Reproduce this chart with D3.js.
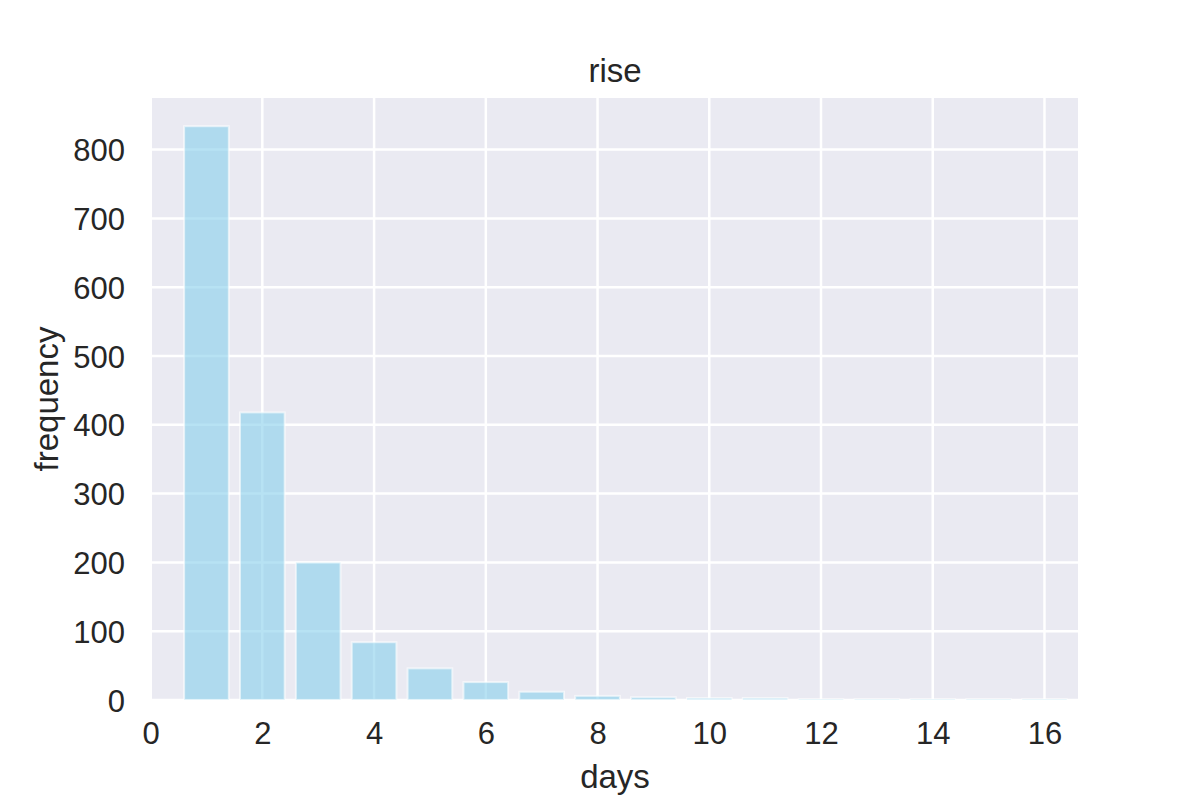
<!DOCTYPE html>
<html>
<head>
<meta charset="utf-8">
<script src="https://cdn.jsdelivr.net/npm/d3@7"></script>
<style>
    body { margin: 0; background: #fff; }
    text { font-family: "Liberation Sans", Arial, sans-serif; fill: #262626; }
    .grid line { stroke: #fff; stroke-width: 2.5; }
    .bar { fill: skyblue; fill-opacity: 0.6; stroke: #fff; stroke-opacity: 0.6; stroke-width: 2; }
</style>
</head>
<body>
<svg id="svg" width="1200" height="800"></svg>
<script>
// histogram of rise lengths
const days = [1, 2, 3, 4, 5, 6, 7, 8, 9, 10, 11, 12, 13, 14, 15, 16];
const frequency = [834, 418, 200, 84, 46, 26, 12, 6, 4, 3, 3, 1, 1, 1, 1, 1];
const xTicks = [0, 2, 4, 6, 8, 10, 12, 14, 16];
const yTicks = [0, 100, 200, 300, 400, 500, 600, 700, 800];

const margin = {top: 98, left: 152, right: 122, bottom: 100};
const width = 1200 - margin.left - margin.right;
const height = 800 - margin.top - margin.bottom;
const barWidth = 0.8;

const svg = d3.select('#svg');
const g = svg.append('g')
    .attr('transform', 'translate(' + margin.left + ',' + margin.top + ')');

const x = d3.scaleLinear().domain([0.025, 16.6]).range([0, width]);
const y = d3.scaleLinear().domain([0, 875]).range([height, 0]);

g.append('rect')
    .attr('width', width)
    .attr('height', height)
    .attr('fill', '#eaeaf2');

// grid lines below the bars
const grid = g.append('g').attr('class', 'grid');
grid.selectAll('.gx')
    .data(xTicks)
  .enter().append('line')
    .attr('x1', d => x(d)).attr('x2', d => x(d))
    .attr('y1', 0).attr('y2', height);
grid.selectAll('.gy')
    .data(yTicks)
  .enter().append('line')
    .attr('x1', 0).attr('x2', width)
    .attr('y1', d => y(d)).attr('y2', d => y(d));

g.append('g').selectAll('rect')
    .data(days)
  .enter().append('rect')
    .attr('class', 'bar')
    .attr('x', d => x(d - barWidth / 2))
    .attr('width', d => x(d + barWidth / 2) - x(d - barWidth / 2))
    .attr('y', (d, i) => y(frequency[i]))
    .attr('height', (d, i) => height - y(frequency[i]));

const xAxis = d3.axisBottom(x).tickValues(xTicks).tickSize(0).tickPadding(22);
const yAxis = d3.axisLeft(y).tickValues(yTicks).tickSize(0).tickPadding(27);

const gx = g.append('g')
    .attr('transform', 'translate(0,' + height + ')')
    .call(xAxis);
const gy = g.append('g').call(yAxis);
[gx, gy].forEach(a => {
    a.select('.domain').remove();
    a.selectAll('text')
        .attr('font-size', 31)
        .attr('fill', '#262626')
        .style('font-family', '"Liberation Sans", Arial, sans-serif');
});
gy.selectAll('text').attr('dy', '0.36em');

g.append('text')
    .attr('x', width / 2)
    .attr('y', -16)
    .attr('text-anchor', 'middle')
    .attr('font-size', 33)
    .text('rise');

g.append('text')
    .attr('x', width / 2)
    .attr('y', height + 88)
    .attr('text-anchor', 'middle')
    .attr('font-size', 33)
    .text('days');

g.append('text')
    .attr('transform', 'translate(' + (-94) + ',' + (height / 2) + ') rotate(-90)')
    .attr('text-anchor', 'middle')
    .attr('font-size', 33)
    .text('frequency');
</script>
</body>
</html>
